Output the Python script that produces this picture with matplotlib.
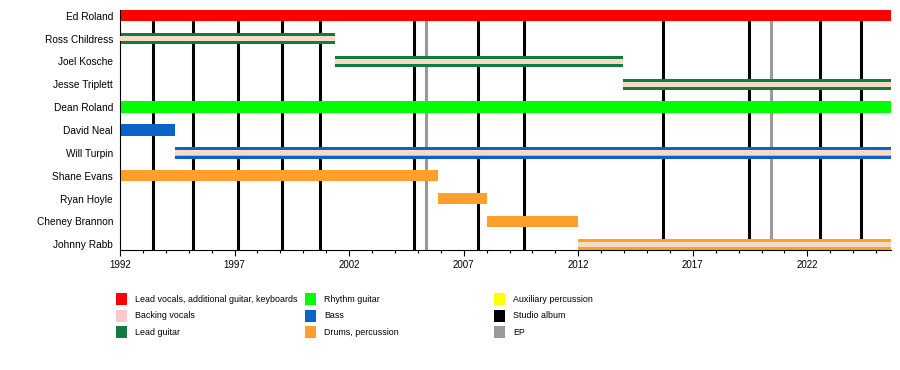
import numpy as np
import matplotlib.pyplot as plt
from matplotlib.patches import Rectangle

plt.rcParams['font.family'] = ['Liberation Sans', 'DejaVu Sans']

end = 2025.65

members = ['Ed Roland', 'Ross Childress', 'Joel Kosche', 'Jesse Triplett', 'Dean Roland',
           'David Neal', 'Will Turpin', 'Shane Evans', 'Ryan Hoyle', 'Cheney Brannon', 'Johnny Rabb']
start = [1992, 1992, 2001.4, 2013.97, 1992, 1992, 1994.42, 1992, 2005.9, 2008.0, 2011.97]
finish = [end, 2001.4, 2013.97, end, end, 1994.42, end, 2005.9, 2008.0, 2011.97, end]
role = ['vocals', 'lead', 'lead', 'lead', 'rhythm', 'bass', 'bass', 'drums', 'drums', 'drums', 'drums']
bvocals = [False, True, True, True, False, False, True, False, False, False, True]
perc = [False, False, False, False, False, False, True, False, False, False, False]

studio_albums = [1993.45, 1995.2, 1997.16, 1999.08, 2000.74, 2004.85, 2007.64, 2009.63,
                 2015.71, 2019.47, 2022.55, 2024.36]
eps = [2005.36, 2020.42]

role_colors = {'vocals': '#ff0000', 'lead': '#157a3e', 'rhythm': '#00ff00',
               'bass': '#0a64c8', 'drums': '#ffa02a'}
stripe_color = '#f6dcc8'
perc_color = '#b8d830'

legend_labels = ['Lead vocals, additional guitar, keyboards', 'Backing vocals', 'Lead guitar',
                 'Rhythm guitar', 'Bass', 'Drums, percussion',
                 'Auxiliary percussion', 'Studio album', 'EP']
legend_colors = ['#ff0000', '#ffc8cc', '#157a3e', '#00ff00', '#0a64c8', '#ffa02a',
                 '#ffff00', '#000000', '#999999']

fig = plt.figure(figsize=(9, 3.7), dpi=100)
ax = fig.add_axes([120/900, 120/370, 771/900, 240/370])

y = np.arange(len(members))
for x in studio_albums:
    ax.axvline(x, color='black', lw=2.2, zorder=1)
for x in eps:
    ax.axvline(x, color='#999999', lw=2.2, zorder=1)

widths = np.subtract(finish, start)
ax.barh(y, widths, left=start, height=0.5, color=[role_colors[r] for r in role], zorder=2)
for i in range(len(members)):
    if perc[i]:
        ax.barh(i, widths[i], left=start[i], height=0.29, color=perc_color, zorder=3)
    if bvocals[i]:
        ax.barh(i, widths[i], left=start[i], height=0.21 if perc[i] else 0.2,
                color=stripe_color, zorder=4)

ax.set_xlim(1992, end)
ax.set_ylim(10.25, -0.25)
ax.set_yticks(y)
ax.set_yticklabels(members, fontsize=7.3)
ax.set_xticks(np.arange(1992, 2023, 5))
ax.set_xticks(np.arange(1992, 2026), minor=True)
ax.tick_params(axis='x', which='major', length=4.3, width=0.8, labelsize=7, pad=3)
ax.tick_params(axis='x', which='minor', length=2.2, width=0.8)
ax.tick_params(axis='y', length=0, pad=5)
ax.spines['top'].set_visible(False)
ax.spines['right'].set_visible(False)
ax.spines['left'].set_linewidth(0.8)
ax.spines['bottom'].set_linewidth(0.8)

# legend, laid out in pixel units
lax = fig.add_axes([0, 0, 1, 1])
lax.set_xlim(0, 900)
lax.set_ylim(370, 0)
lax.axis('off')
for k, (lab, col) in enumerate(zip(legend_labels, legend_colors)):
    cx = 116 + 189 * (k // 3)
    cy = 299 + 16.7 * (k % 3)
    lax.add_patch(Rectangle((cx, cy - 6), 11, 12, color=col, lw=0))
    lax.text(cx + 19, cy, lab, fontsize=6.4, va='center', ha='left')

fig.savefig('out.png', dpi=100)
